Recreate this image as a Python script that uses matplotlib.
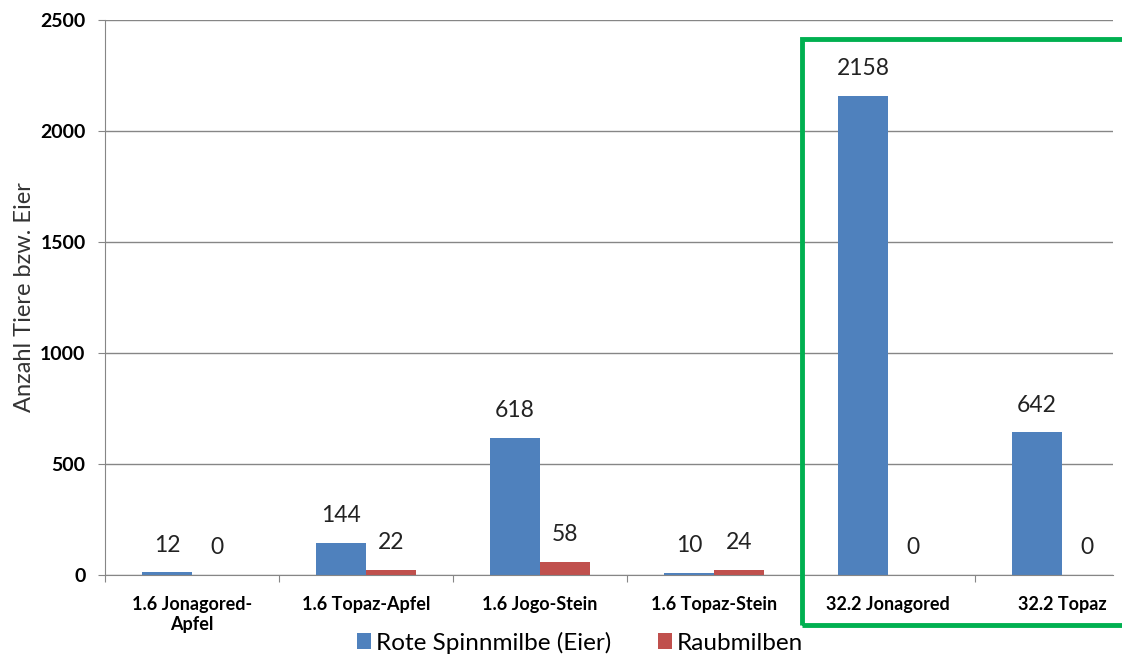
import numpy as np
from matplotlib import pyplot as plt
from matplotlib.patches import Rectangle

# Daten
categories = ['1.6 Jonagored-\nApfel', '1.6 Topaz-Apfel', '1.6 Jogo-Stein',
              '1.6 Topaz-Stein', '32.2 Jonagored', '32.2 Topaz']
spinnmilbe = [12, 144, 618, 10, 2158, 642]
raubmilben = [0, 22, 58, 24, 0, 0]
y_ticks = [0, 500, 1000, 1500, 2000, 2500]

blue = '#4F81BD'
red = '#C0504D'
grey = '#868686'

plt.rcParams['font.family'] = ['Lato', 'DejaVu Sans']

fig = plt.figure(figsize=(11.22, 6.57), dpi=100)
ax = fig.add_axes([105 / 1122, 82 / 657, 1008 / 1122, 555 / 657])

x = np.arange(len(categories))
w = 0.287
b1 = ax.bar(x - w / 2, spinnmilbe, w, color=blue, label='Rote Spinnmilbe (Eier)', zorder=3)
b2 = ax.bar(x + w / 2, raubmilben, w, color=red, label='Raubmilben', zorder=3)

for bars, vals in ((b1, spinnmilbe), (b2, raubmilben)):
	for rect, v in zip(bars, vals):
		ax.annotate(str(v), (rect.get_x() + rect.get_width() / 2, v),
		            xytext=(0, 12), textcoords='offset points',
		            ha='center', va='bottom', fontsize=16.5, color='#222222')

# Achsen
ax.set_yticks(y_ticks)
ax.set_ylim(0, 2500)
ax.set_xticks(np.arange(-0.5, 6.5, 1.0))
ax.set_xticklabels([])
ax.set_xticks(x, minor=True)
ax.set_xticklabels(categories, minor=True, fontsize=13, fontweight='bold')
ax.set_xlim(-0.5, -0.5 + 1008 / 174)
ax.tick_params(axis='x', which='minor', length=0, pad=15)
ax.tick_params(axis='x', which='major', length=5, color=grey, direction='out')
ax.tick_params(axis='y', length=5, color=grey, pad=9, labelsize=14)
for lab in ax.get_yticklabels():
	lab.set_fontweight('bold')

ax.grid(axis='y', color=grey, linewidth=1, zorder=0)
for s in ('top', 'right'):
	ax.spines[s].set_visible(False)
for s in ('left', 'bottom'):
	ax.spines[s].set_color(grey)
	ax.spines[s].set_zorder(4)

ax.set_ylabel('Anzahl Tiere bzw. Eier', fontsize=17, color='#333333', labelpad=4)

fig.legend(loc='center', bbox_to_anchor=(0.517, 0.022), ncol=2, frameon=False,
           fontsize=17.5, handlelength=0.6, handleheight=0.6, handletextpad=0.2,
           columnspacing=1.9, borderpad=0)

# gruener Rahmen
fig.patches.append(Rectangle((802 / 1122, 32 / 657), 330 / 1122, 586 / 657,
                             transform=fig.transFigure, fill=False,
                             edgecolor='#00B050', linewidth=3.5))

plt.savefig('out.png', dpi=100)
